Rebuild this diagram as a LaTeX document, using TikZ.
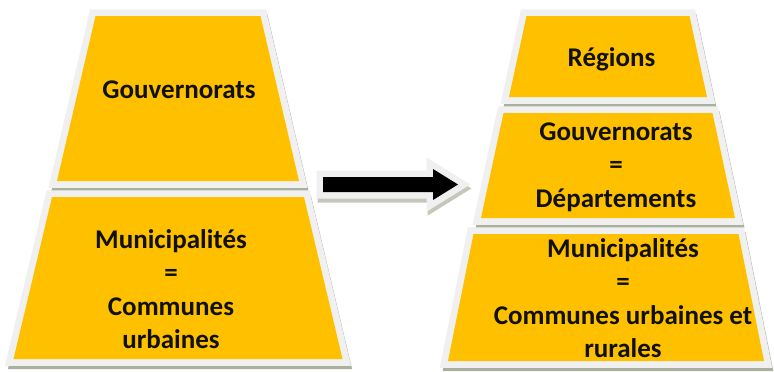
\documentclass[tikz,border=0pt]{standalone}
\usepackage{fontspec}
\setmainfont{Carlito}
\definecolor{gold}{HTML}{FFC000}
\definecolor{rim}{HTML}{F0F0F0}
\definecolor{shade}{HTML}{A9B09E}
\definecolor{ink}{HTML}{111100}
\begin{document}
\begin{tikzpicture}[x=1pt,y=-1pt,
  lbl/.style={font=\bfseries\fontsize{27}{33.5}\selectfont, align=center, text=ink, inner sep=0pt},
  rimline/.style={draw=rim,fill=rim,line width=13.5pt,line join=miter},
  shadeline/.style={draw=shade,fill=shade,line width=12pt,line join=miter},
  arrowrim/.style={draw=rim,fill=rim,line width=13pt,line join=miter},
  arrowshade/.style={draw=shade!70,fill=shade!70,line width=13pt,line join=miter}]
\useasboundingbox[fill=white] (0,0) rectangle (774,372);
\def\traps{178/16/82.5/181/121, 178/197/126/359/164.5, 608/16/81.5/97/99, 608/113/104.5/218/127, 606/234/132.5/361/158}
% shadows
\foreach \cx/\ty/\th/\by/\bh in \traps {
  \path[shadeline] ({\cx-\th+2},{\ty+4}) -- ({\cx+\th+2},{\ty+4}) -- ({\cx+\bh+2},{\by+4}) -- ({\cx-\bh+2},{\by+4}) -- cycle;
}
% rims
\foreach \cx/\ty/\th/\by/\bh in \traps {
  \path[rimline] ({\cx-\th},\ty) -- ({\cx+\th},\ty) -- ({\cx+\bh},\by) -- ({\cx-\bh},\by) -- cycle;
}
% fills
\foreach \cx/\ty/\th/\by/\bh in \traps {
  \fill[gold] ({\cx-\th},\ty) -- ({\cx+\th},\ty) -- ({\cx+\bh},\by) -- ({\cx-\bh},\by) -- cycle;
}
% arrow
\path[arrowshade] (324,181) -- (434,181) -- (434,173) -- (459,188.5) -- (434,204) -- (434,196) -- (324,196) -- cycle;
\path[arrowrim] (323,177) -- (433,177) -- (433,169) -- (458,184.5) -- (433,200) -- (433,192) -- (323,192) -- cycle;
\fill[black] (323,177) -- (433,177) -- (433,169) -- (458,184.5) -- (433,200) -- (433,192) -- (323,192) -- cycle;
% labels
\node[lbl] (lg) at (179,90) {Gouvernorats};
\node[lbl] (lm) at (171,289) {Municipalités\\=\\Communes\\urbaines};
\node[lbl] (rr) at (611.5,59.5) {Régions};
\node[lbl] (rg) at (616,167) {Gouvernorats\\=\\Départements};
\node[lbl] (rm) at (623,298) {Municipalités\\=\\Communes urbaines et\\rurales};
\end{tikzpicture}
\end{document}
